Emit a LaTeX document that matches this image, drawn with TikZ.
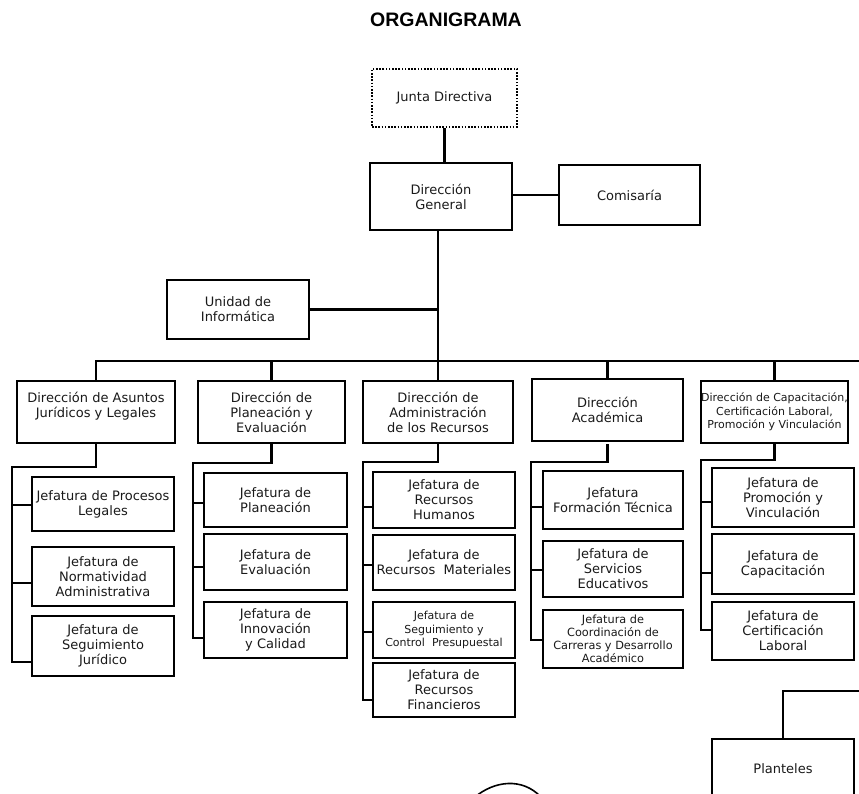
\documentclass[tikz,border=0pt]{standalone}
\usepackage{fontspec}
\setmainfont{DejaVu Sans}
\newfontfamily\titlefont{Liberation Sans}
\begin{document}
\begin{tikzpicture}[x=1pt,y=-1pt,
  box/.style={draw, line width=2.7pt, inner sep=1pt, align=center,
    font=\fontsize{13}{15}\selectfont, text=black!90},
  small/.style={font=\fontsize{11}{13.5}\selectfont},
  dotbox/.style={box, line width=2.4pt, dash pattern=on 1.6pt off 1.6pt},
  link/.style={line width=2.7pt}]
\useasboundingbox (0,0) rectangle (859,793);
\clip (0,0) rectangle (859,793);

\node[font=\titlefont\bfseries\fontsize{19.5}{22}\selectfont] (title) at (446,20) {ORGANIGRAMA};

% top level
\node[dotbox, minimum width=145pt, minimum height=58pt] (junta) at (444.5,98) {Junta Directiva};
\node[box, minimum width=142pt, minimum height=67pt] (dg) at (441,196.5) {Dirección\\General};
\node[box, minimum width=141pt, minimum height=60pt] (com) at (629.5,195) {Comisaría};
\node[box, minimum width=142pt, minimum height=59pt] (ui) at (238,309.5) {Unidad de\\Informática};

% direcciones
\node[box, minimum width=158pt, minimum height=62pt] (dir1) at (96,412) {Dirección de Asuntos\\Jurídicos y Legales\\\mbox{}};
\node[box, minimum width=147pt, minimum height=62pt] (dir2) at (271.5,412) {Dirección de\\Planeación y\\Evaluación};
\node[box, minimum width=150pt, minimum height=62pt] (dir3) at (438,412) {Dirección de\\Administración\\de los Recursos};
\node[box, minimum width=151pt, minimum height=62pt] (dir4) at (607.5,410) {Dirección\\Académica};
\node[box, small, minimum width=147pt, minimum height=62pt, inner sep=0pt] (dir5) at (774.5,412) {Dirección de Capacitación,\\Certificación Laboral,\\Promoción y Vinculación};

% column 1
\node[box, minimum width=142pt, minimum height=54pt] (j11) at (103,504) {Jefatura de Procesos\\Legales};
\node[box, minimum width=142pt, minimum height=59pt] (j12) at (103,576.5) {Jefatura de\\Normatividad\\Administrativa};
\node[box, minimum width=142pt, minimum height=60pt] (j13) at (103,646) {Jefatura de\\Seguimiento\\Jurídico};
% column 2
\node[box, minimum width=143pt, minimum height=54pt] (j21) at (275.5,500) {Jefatura de\\Planeación};
\node[box, minimum width=143pt, minimum height=56pt] (j22) at (275.5,562) {Jefatura de\\Evaluación};
\node[box, minimum width=143pt, minimum height=56pt] (j23) at (275.5,630) {Jefatura de\\Innovación\\y Calidad};
% column 3
\node[box, minimum width=142pt, minimum height=56pt] (j31) at (444,500) {Jefatura de\\Recursos\\Humanos};
\node[box, minimum width=142pt, minimum height=55pt] (j32) at (444,562.5) {Jefatura de\\Recursos\ \ Materiales};
\node[box, small, minimum width=142pt, minimum height=56pt] (j33) at (444,630) {Jefatura de\\Seguimiento y\\Control\ \ Presupuestal};
\node[box, minimum width=142pt, minimum height=54pt] (j34) at (444,690) {Jefatura de\\Recursos\\Financieros};
% column 4
\node[box, minimum width=140pt, minimum height=58pt] (j41) at (613,500) {Jefatura\\Formación Técnica};
\node[box, minimum width=140pt, minimum height=56pt] (j42) at (613,569) {Jefatura de\\Servicios\\Educativos};
\node[box, font=\fontsize{11.3}{13}\selectfont, minimum width=140pt, minimum height=58pt] (j43) at (613,639) {Jefatura de\\Coordinación de\\Carreras y Desarrollo\\Académico};
% column 5
\node[box, minimum width=142pt, minimum height=59pt] (j51) at (783,497.5) {Jefatura de\\Promoción y\\Vinculación};
\node[box, minimum width=142pt, minimum height=60pt] (j52) at (783,564) {Jefatura de\\Capacitación};
\node[box, minimum width=142pt, minimum height=58pt] (j53) at (783,631) {Jefatura de\\Certificación\\Laboral};

\node[box, minimum width=142pt, minimum height=60pt] (plan) at (783,769) {Planteles};

% top connectors
\draw[link] (junta.south) -- (junta.south |- dg.north);
\draw[link] (dg.east |- com.west) -- (com.west);
\draw[link] (dg.south -| dir3.north) -- (dir3.north);
\draw[link] (ui.east) -- (ui.east -| dir3.north);

% bus
\coordinate (busR) at (859,361);
\draw[link] (dir1.north) |- (busR);
\draw[link] (dir2.north) -- (dir2.north |- busR);
\draw[link] (dir4.north |- dir1.north) -- (dir4.north |- busR);
\draw[link] (dir5.north) -- (dir5.north |- busR);

% column 1 connectors
\coordinate (e1) at (12,467); \coordinate (b1) at (12,662);
\coordinate (t11) at (12,505); \coordinate (t12) at (12,583);
\draw[link] (dir1.south) |- (e1) -- (b1) -- (b1 -| j13.west);
\draw[link] (t11) -- (t11 -| j11.west);
\draw[link] (t12) -- (t12 -| j12.west);
% column 2
\coordinate (e2) at (193,463); \coordinate (b2) at (193,638);
\coordinate (t21) at (193,503); \coordinate (t22) at (193,567);
\draw[link] (dir2.south) |- (e2) -- (b2) -- (b2 -| j23.west);
\draw[link] (t21) -- (t21 -| j21.west);
\draw[link] (t22) -- (t22 -| j22.west);
% column 3
\coordinate (e3) at (363,462); \coordinate (b3) at (363,700);
\coordinate (t31) at (363,507); \coordinate (t32) at (363,565); \coordinate (t33) at (363,632);
\draw[link] (dir3.south) |- (e3) -- (b3) -- (b3 -| j34.west);
\draw[link] (t31) -- (t31 -| j31.west);
\draw[link] (t32) -- (t32 -| j32.west);
\draw[link] (t33) -- (t33 -| j33.west);
% column 4
\coordinate (e4) at (531,462); \coordinate (b4) at (531,640);
\coordinate (t41) at (531,507); \coordinate (t42) at (531,570);
\draw[link] (dir4.south |- dir1.south) |- (e4) -- (b4) -- (b4 -| j43.west);
\draw[link] (t41) -- (t41 -| j41.west);
\draw[link] (t42) -- (t42 -| j42.west);
% column 5
\coordinate (e5) at (701,460); \coordinate (b5) at (701,630);
\coordinate (t51) at (701,502); \coordinate (t52) at (701,573);
\draw[link] (dir5.south) |- (e5) -- (b5) -- (b5 -| j53.west);
\draw[link] (t51) -- (t51 -| j51.west);
\draw[link] (t52) -- (t52 -| j52.west);

% planteles
\coordinate (pr) at (859,691);
\draw[link] (plan.north) |- (pr);

% partial curve at the bottom
\draw[line width=1.6pt] (475,797) .. controls (494,781) and (522,777) .. (541,797);
\end{tikzpicture}
\end{document}
